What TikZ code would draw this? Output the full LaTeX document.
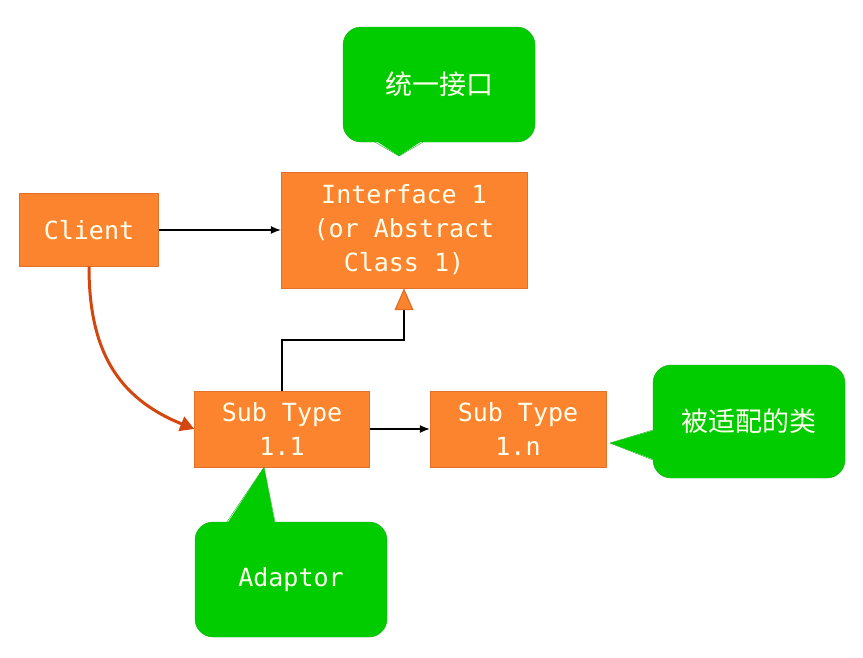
\documentclass[tikz,border=0pt]{standalone}
\usepackage{fontspec}
\setmonofont{DejaVu Sans Mono}
\newfontfamily\cjk{Noto Sans CJK SC}
\usetikzlibrary{arrows.meta}
\definecolor{boxorange}{RGB}{253,132,46}
\definecolor{edgeorange}{RGB}{226,112,40}
\definecolor{bubblegreen}{RGB}{0,204,0}
\definecolor{edgegreen}{RGB}{20,175,20}
\definecolor{curvered}{RGB}{212,70,16}
\definecolor{labelwhite}{RGB}{255,255,238}
\begin{document}
\begin{tikzpicture}[x=1pt,y=1pt,
  cls/.style={draw=edgeorange, fill=boxorange, inner sep=0pt, align=center, text=labelwhite, font=\fontsize{25}{34}\selectfont\ttfamily},
  bubble/.style={draw=edgegreen, fill=bubblegreen, rounded corners=18pt, minimum width=192pt, minimum height=115pt, inner sep=0pt, text=labelwhite},
  link/.style={-{Latex[length=10pt,width=8pt]}, line width=1.3pt}]
\useasboundingbox (0,0) rectangle (863,-657);
% classes
\node[cls, minimum width=139pt, minimum height=73pt] (client) at (89,-230) {Client};
\node[cls, minimum width=246pt, minimum height=116pt] (iface) at (404,-230) {Interface 1\\(or Abstract\\Class 1)};
\node[cls, minimum width=175pt, minimum height=76pt] (sub1) at (282,-429) {Sub Type\\1.1};
\node[cls, minimum width=176pt, minimum height=76pt] (subn) at (518,-429) {Sub Type\\1.n};
% links
\draw[link] (client) -- (iface);
\draw[link] (sub1) -- (subn);
\coordinate (bend) at (404,-340);
\draw[line width=1.3pt, -{Triangle[length=22pt,width=19pt,fill=boxorange,color=edgeorange]}] (sub1.north) |- (bend) -- (iface.south);
\draw[curvered, line width=3pt, -{Triangle[length=14pt,width=15pt]}] (client.south) to[out=-90,in=158,looseness=1.1] (sub1.west);
% callouts
\node[bubble, font=\fontsize{27}{30}\selectfont\cjk] (unify) at (439,-84.5) {统一接口};
\coordinate (unifytip) at (399,-156);
\fill[bubblegreen] ([xshift=-64pt,yshift=2pt]unify.south) -- (unifytip) -- ([xshift=-16pt,yshift=2pt]unify.south) -- cycle;
\draw[edgegreen] ([xshift=-64pt]unify.south) -- (unifytip) -- ([xshift=-16pt]unify.south);
\node[bubble, font=\fontsize{25}{30}\selectfont\ttfamily] (adaptor) at (291,-579.5) {Adaptor};
\fill[bubblegreen] ([xshift=-64pt,yshift=-2pt]adaptor.north) -- ([xshift=-18pt]sub1.south) -- ([xshift=-16pt,yshift=-2pt]adaptor.north) -- cycle;
\draw[edgegreen] ([xshift=-64pt]adaptor.north) -- ([xshift=-18pt]sub1.south) -- ([xshift=-16pt]adaptor.north);
\node[bubble, minimum height=113pt, font=\fontsize{27}{30}\selectfont\cjk] (adapted) at (749,-421.5) {被适配的类};
\coordinate (adaptedtip) at (610,-443);
\fill[bubblegreen] ([xshift=2pt,yshift=-8.5pt]adapted.west) -- (adaptedtip) -- ([xshift=2pt,yshift=-38.5pt]adapted.west) -- cycle;
\draw[edgegreen] ([yshift=-8.5pt]adapted.west) -- (adaptedtip) -- ([yshift=-38.5pt]adapted.west);
\end{tikzpicture}
\end{document}
